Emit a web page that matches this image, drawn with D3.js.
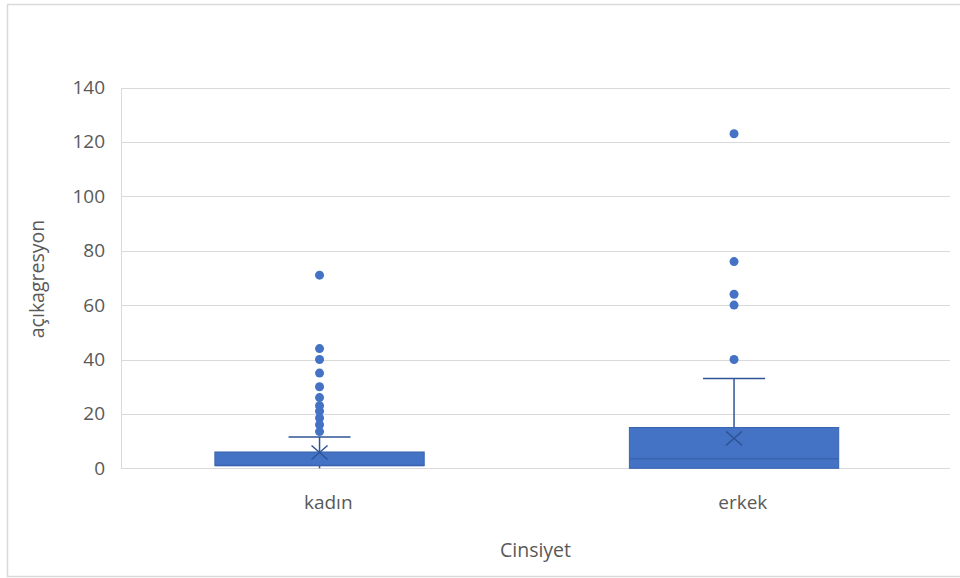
<!DOCTYPE html>
<html>
<head>
<meta charset="utf-8">
<script src="https://cdn.jsdelivr.net/npm/d3@7"></script>
<style>
  html, body { margin: 0; padding: 0; background: #fff; }
  svg text { font-family: "Open Sans", "Noto Sans", sans-serif; fill: #595959; }
</style>
</head>
<body>
<svg id="chart" width="960" height="578"></svg>
<script>
// Box-and-whisker summary per gender group
const categories = ["kadın", "erkek"];
const q1Values = [1, 0];
const medianValues = [1, 3.5];
const q3Values = [6, 15];
const whiskerLow = [0, 0];
const whiskerHigh = [11.5, 33];
const meanValues = [5.8, 11];
const outliersKadin = [71, 44, 40, 35, 30, 26, 23, 21, 18.5, 16, 13.5];
const outliersErkek = [123, 76, 64, 60, 40];
const yTicks = [0, 20, 40, 60, 80, 100, 120, 140];

const outliers = [outliersKadin, outliersErkek];

const svg = d3.select("#chart");
const blue = "#4472C4";
const darkBlue = "#2F5597";
const gridColor = "#d9d9d9";

const plot = { left: 121, right: 950, top: 87.5, bottom: 468.3 };

// Outer chart frame
svg.append("rect")
  .attr("x", 7.5).attr("y", 4.5)
  .attr("width", 960).attr("height", 572)
  .attr("fill", "#fff")
  .attr("stroke", "#d9d9d9").attr("stroke-width", 1.5);

const y = d3.scaleLinear().domain([0, 140]).range([plot.bottom, plot.top]);
const x = d3.scaleBand().domain(categories).range([plot.left, plot.right]).padding(0);

// Horizontal gridlines
svg.append("g")
  .selectAll("line")
  .data(yTicks)
  .join("line")
  .attr("x1", plot.left).attr("x2", plot.right)
  .attr("y1", d => Math.round(y(d)) + 0.5).attr("y2", d => Math.round(y(d)) + 0.5)
  .attr("stroke", gridColor).attr("stroke-width", 1);

// Vertical axis line
svg.append("line")
  .attr("x1", plot.left + 0.5).attr("x2", plot.left + 0.5)
  .attr("y1", Math.round(y(140)) + 0.5).attr("y2", Math.round(y(0)) + 0.5)
  .attr("stroke", gridColor);

// Y axis tick labels
const yAxis = d3.axisLeft(y).tickValues(yTicks).tickSize(0).tickPadding(16);
const gy = svg.append("g").attr("transform", `translate(${plot.left},0)`).call(yAxis);
gy.select(".domain").remove();
gy.selectAll("text")
  .style("font-size", "19px")
  .attr("fill", "#595959");

// X axis category labels
const xAxis = d3.axisBottom(x).tickSize(0).tickPadding(27);
const gx = svg.append("g").attr("transform", `translate(0,${plot.bottom})`).call(xAxis);
gx.select(".domain").remove();
gx.selectAll("text")
  .style("font-size", "19px")
  .attr("fill", "#595959");

// Axis titles
svg.append("text")
  .attr("x", (plot.left + plot.right) / 2)
  .attr("y", 557)
  .attr("text-anchor", "middle")
  .style("font-size", "19.5px")
  .text("Cinsiyet");

svg.append("text")
  .attr("transform", "translate(44,279) rotate(-90)")
  .attr("text-anchor", "middle")
  .style("font-size", "19.5px")
  .text("açıkagresyon");

// Boxes
const boxW = x.bandwidth() * 0.505;
const capW = 62;
const centerOf = i => x(categories[i]) + x.bandwidth() / 2 - x.bandwidth() * 0.021;

categories.forEach((cat, i) => {
  const cx = centerOf(i);
  const g = svg.append("g");

  // whiskers
  g.append("line")
    .attr("x1", cx).attr("x2", cx)
    .attr("y1", y(q3Values[i])).attr("y2", y(whiskerHigh[i]))
    .attr("stroke", darkBlue).attr("stroke-width", 1.5);
  g.append("line")
    .attr("x1", cx - capW / 2).attr("x2", cx + capW / 2)
    .attr("y1", y(whiskerHigh[i])).attr("y2", y(whiskerHigh[i]))
    .attr("stroke", darkBlue).attr("stroke-width", 1.5);
  if (whiskerLow[i] < q1Values[i]) {
    g.append("line")
      .attr("x1", cx).attr("x2", cx)
      .attr("y1", y(q1Values[i])).attr("y2", y(whiskerLow[i]))
      .attr("stroke", darkBlue).attr("stroke-width", 1.5);
  }

  // box
  g.append("rect")
    .attr("x", cx - boxW / 2)
    .attr("y", y(q3Values[i]))
    .attr("width", boxW)
    .attr("height", y(q1Values[i]) - y(q3Values[i]))
    .attr("fill", blue)
    .attr("stroke", "#3A64B0").attr("stroke-width", 1);

  // median
  g.append("line")
    .attr("x1", cx - boxW / 2).attr("x2", cx + boxW / 2)
    .attr("y1", y(medianValues[i])).attr("y2", y(medianValues[i]))
    .attr("stroke", "#3A64B0").attr("stroke-width", 1.5);

  // mean marker
  const my = y(meanValues[i]);
  g.append("path")
    .attr("d", `M${cx - 8},${my - 7}L${cx + 8},${my + 7}M${cx - 8},${my + 7}L${cx + 8},${my - 7}`)
    .attr("stroke", darkBlue).attr("stroke-width", 1.5).attr("fill", "none");

  // outliers
  g.selectAll("circle")
    .data(outliers[i])
    .join("circle")
    .attr("cx", cx)
    .attr("cy", d => y(d))
    .attr("r", 4.5)
    .attr("fill", blue);
});
</script>
</body>
</html>
